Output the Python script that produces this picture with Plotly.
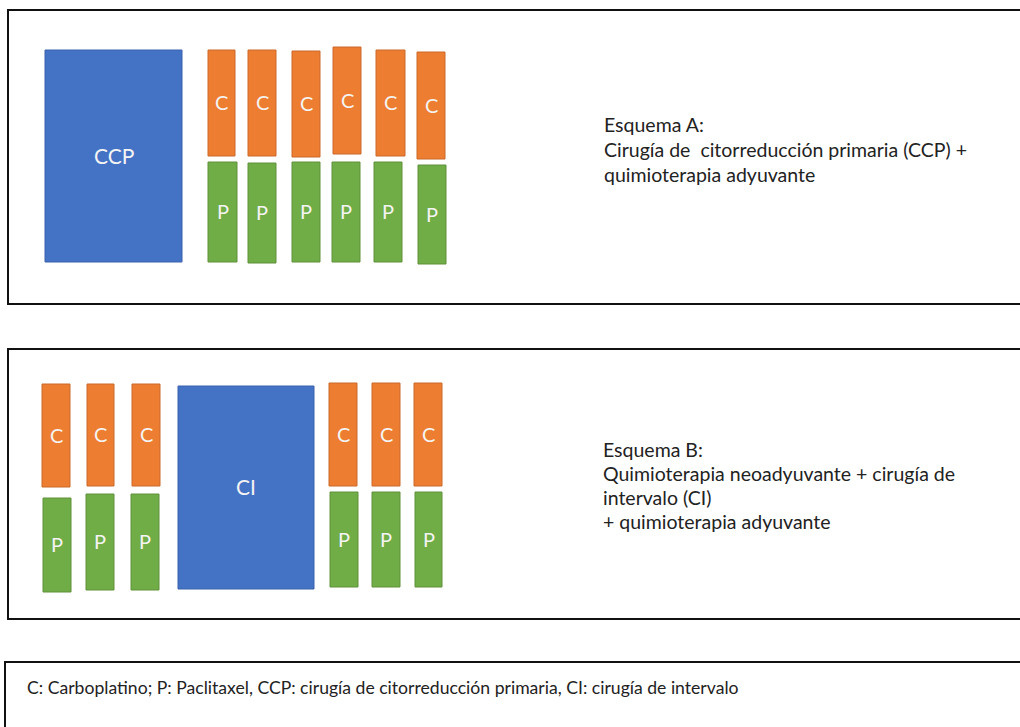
import plotly.graph_objects as go

# ---------------- data ----------------
W, H = 1020, 727

# Scheme A: surgery block + 6 cycles (C over P)
a_block_label = "CCP"
a_block = [45, 182, 50, 262]            # x0, x1, y0, y1
a_c_x0 = [208, 248, 292, 333, 376, 417]
a_c_x1 = [235, 276, 320, 361, 405, 445]
a_c_y0 = [50, 50, 51, 47, 50, 52]
a_c_y1 = [156, 156, 157, 154, 156, 159]
a_p_x0 = [208, 248, 292, 332, 374, 418]
a_p_x1 = [237, 276, 320, 360, 402, 446]
a_p_y0 = [162, 163, 162, 162, 162, 165]
a_p_y1 = [262, 263, 262, 262, 262, 264]

# Scheme B: 3 cycles + interval surgery + 3 cycles
b_block_label = "CI"
b_block = [178, 314, 386, 589]
b_c_x0 = [42, 87, 132, 329, 372, 414]
b_c_x1 = [70, 114, 160, 357, 400, 442]
b_c_y0 = [384, 384, 384, 383, 383, 383]
b_c_y1 = [487, 486, 486, 486, 486, 486]
b_p_x0 = [43, 86, 131, 330, 372, 415]
b_p_x1 = [71, 114, 159, 358, 400, 442]
b_p_y0 = [498, 494, 494, 492, 492, 492]
b_p_y1 = [592, 590, 590, 587, 587, 587]

c_label = "C"
p_label = "P"

text_a = ["Esquema A:",
          "Cirugía de  citorreducción primaria (CCP) +",
          "quimioterapia adyuvante"]
text_b = ["Esquema B:",
          "Quimioterapia neoadyuvante + cirugía de",
          "intervalo (CI)",
          "+ quimioterapia adyuvante"]
footer = ("C: Carboplatino; P: Paclitaxel, CCP: cirugía de citorreducción "
          "primaria, CI: cirugía de intervalo")

# frames
frame_a = [8, 1030, 10, 304]
frame_b = [8, 1030, 349, 619]
frame_f = [5, 1030, 662, 740]

# ---------------- style ----------------
BLUE, BLUE_L = "#4472C4", "#3A63AE"
ORANGE, ORANGE_L = "#ED7D31", "#C9682A"
GREEN, GREEN_L = "#70AD47", "#5E913B"
FONT = "Lato"
TXT = "#222222"

fig = go.Figure()
shapes = []
ann = []


def rect(x0, x1, y0, y1, fill, line, lw=1):
    shapes.append(dict(type="rect", xref="x", yref="y", x0=x0, x1=x1,
                       y0=y0, y1=y1, fillcolor=fill,
                       line=dict(color=line, width=lw), layer="above"))


def label(x, y, t, size=18, color="#F4F4F4", xanchor="center"):
    ann.append(dict(x=x, y=y, xref="x", yref="y", text=t, showarrow=False,
                    xanchor=xanchor, yanchor="middle",
                    font=dict(family=FONT, size=size, color=color)))


for fr in (frame_a, frame_b, frame_f):
    rect(fr[0], fr[1], fr[2], fr[3], "rgba(0,0,0,0)", "#111111", 2)

for blk, lab in ((a_block, a_block_label), (b_block, b_block_label)):
    rect(*blk, BLUE, BLUE_L)
    label((blk[0] + blk[1]) / 2, (blk[2] + blk[3]) / 2 - 1, lab, 21)

for cx0, cx1, cy0, cy1, px0, px1, py0, py1 in (
        (a_c_x0, a_c_x1, a_c_y0, a_c_y1, a_p_x0, a_p_x1, a_p_y0, a_p_y1),
        (b_c_x0, b_c_x1, b_c_y0, b_c_y1, b_p_x0, b_p_x1, b_p_y0, b_p_y1)):
    for i in range(len(cx0)):
        rect(cx0[i], cx1[i], cy0[i], cy1[i], ORANGE, ORANGE_L)
        label((cx0[i] + cx1[i]) / 2, (cy0[i] + cy1[i]) / 2 - 1, c_label, 20)
        rect(px0[i], px1[i], py0[i], py1[i], GREEN, GREEN_L)
        label((px0[i] + px1[i]) / 2, (py0[i] + py1[i]) / 2 - 1, p_label, 20)

for i, t in enumerate(text_a):
    label(602, 124 + 25.3 * i, t, 19.5, TXT, "left")
for i, t in enumerate(text_b):
    label(601, 449 + 24.2 * i, t, 19.5, TXT, "left")
label(25, 687, footer, 17.6, TXT, "left")

fig.update_layout(
    width=W, height=H, margin=dict(l=0, r=0, t=0, b=0),
    paper_bgcolor="white", plot_bgcolor="white",
    xaxis=dict(range=[0, W], visible=False, fixedrange=True),
    yaxis=dict(range=[H, 0], visible=False, fixedrange=True),
    shapes=shapes, annotations=ann, showlegend=False,
)

fig.write_html("out.html", config={"displayModeBar": False},
               post_script="document.body.style.margin='0px';")
